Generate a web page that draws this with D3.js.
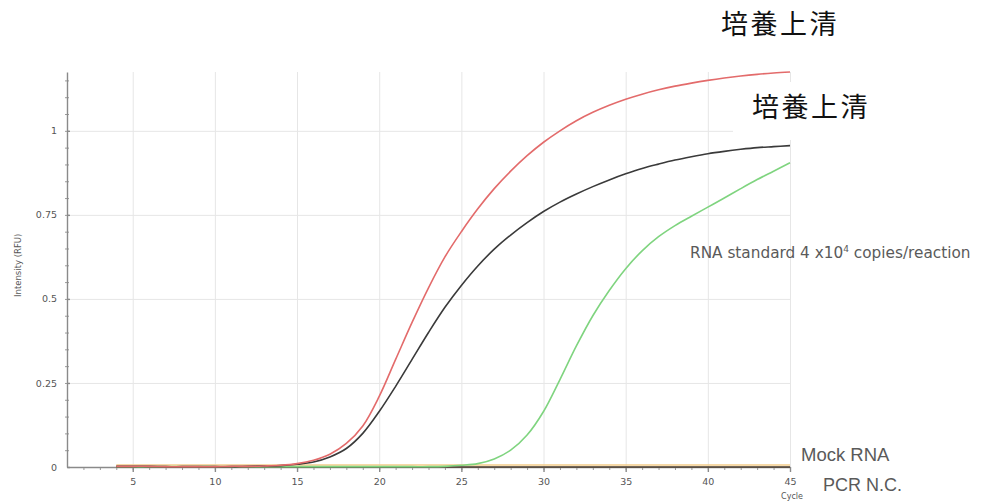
<!DOCTYPE html>
<html>
<head>
<meta charset="utf-8">
<script src="https://cdn.jsdelivr.net/npm/d3@7/dist/d3.min.js"></script>
<style>
  body { margin: 0; background: #fff; }
  svg { display: block; }
  .grid line { stroke: #e6e6e6; stroke-width: 1; }
  .grid .domain { display: none; }
  .axis path, .axis line { stroke: #8a8a8a; stroke-width: 1.4; }
  .axis text { fill: #555; font-family: "DejaVu Sans", sans-serif; font-size: 9.5px; }
  .minor line { stroke: #9a9a9a; stroke-width: 1; }
  .minor .domain { display: none; }
  .curve { fill: none; stroke-width: 1.6; }
  .note { fill: #5a5a5a; font-family: "Liberation Sans", Arial, sans-serif; }
  .jp { fill: #111; font-family: "Noto Sans CJK JP", sans-serif; }
</style>
</head>
<body>
<div id="chart"></div>
<script>
// cycle numbers for every reading (the instrument starts plotting at cycle 4)
const cycles = [4, 5, 6, 7, 8, 9, 10, 11, 12, 13, 14, 15, 16, 17, 18, 19, 20, 21, 22, 23, 24,
  25, 26, 27, 28, 29, 30, 31, 32, 33, 34, 35, 36, 37, 38, 39, 40, 41, 42, 43, 44, 45];

// culture supernatant, red trace
const supernatantRed = [0.002, 0.002, 0.002, 0.001, 0.001, 0.001, 0.001, 0.002, 0.002, 0.003,
  0.005, 0.01, 0.02, 0.038, 0.07, 0.122, 0.21, 0.32, 0.43, 0.533, 0.625, 0.70, 0.768, 0.828,
  0.88, 0.926, 0.966, 1.0, 1.03, 1.055, 1.076, 1.094, 1.109, 1.122, 1.133, 1.142, 1.15, 1.157,
  1.163, 1.168, 1.172, 1.175];

// culture supernatant, black trace
const supernatantBlack = [0.002, 0.002, 0.002, 0.001, 0.001, 0.001, 0.001, 0.001, 0.002, 0.003,
  0.004, 0.008, 0.015, 0.03, 0.055, 0.1, 0.165, 0.24, 0.32, 0.40, 0.475, 0.54, 0.598, 0.648,
  0.69, 0.727, 0.76, 0.788, 0.812, 0.834, 0.854, 0.872, 0.888, 0.901, 0.913, 0.923, 0.932,
  0.939, 0.945, 0.95, 0.953, 0.956];

// RNA standard 4x10^4 copies/reaction
const rnaStandard = [0.001, 0.001, 0.001, 0.001, 0.001, 0.001, 0.001, 0.001, 0.001, 0.001,
  0.001, 0.001, 0.001, 0.001, 0.001, 0.001, 0.001, 0.001, 0.001, 0.001, 0.002, 0.005, 0.01,
  0.024, 0.05, 0.095, 0.165, 0.26, 0.36, 0.45, 0.525, 0.59, 0.643, 0.685, 0.718, 0.746, 0.773,
  0.80, 0.828, 0.855, 0.88, 0.905];

const mockRna = [0.006, 0.006, 0.006, 0.006, 0.006, 0.006, 0.006, 0.006, 0.006, 0.006, 0.006,
  0.006, 0.006, 0.006, 0.006, 0.006, 0.006, 0.006, 0.006, 0.006, 0.006, 0.006, 0.006, 0.006,
  0.006, 0.006, 0.006, 0.006, 0.006, 0.006, 0.006, 0.006, 0.006, 0.006, 0.006, 0.006, 0.006,
  0.006, 0.006, 0.006, 0.006, 0.006];

const pcrNc = [0, 0, 0, 0, 0, 0, 0, 0, 0, 0, 0, 0, 0, 0, 0, 0, 0, 0, 0, 0, 0, 0, 0, 0, 0, 0, 0,
  0, 0, 0, 0, 0, 0, 0, 0, 0, 0, 0, 0, 0, 0, 0];

const xTicks = [5, 10, 15, 20, 25, 30, 35, 40, 45];
const yTicks = [0, 0.25, 0.5, 0.75, 1];

// flat traces first so the rising curves sit on top
const series = [
  { name: 'Mock RNA', values: mockRna, color: '#f3cc8a', width: 1.6 },
  { name: 'PCR N.C.', values: pcrNc, color: '#4b3d2c', width: 2.4 },
  { name: 'RNA standard', values: rnaStandard, color: '#7fd47f', width: 1.6 },
  { name: '培養上清 black', values: supernatantBlack, color: '#3a3a3a', width: 1.6 },
  { name: '培養上清 red', values: supernatantRed, color: '#e36b6b', width: 1.6 }
];

// margin convention
let margin = { top: 72, left: 67, right: 218, bottom: 37 },
  width = 1008 - margin.left - margin.right,
  height = 504 - margin.top - margin.bottom;

let svg = d3.select('#chart')
  .append('svg')
  .attr('width', 1008)
  .attr('height', 504);

let g = svg.append('g')
  .attr('transform', 'translate(' + margin.left + ',' + margin.top + ')');

let xScale = d3.scaleLinear().domain([1, 45]).range([0, width]);
let yScale = d3.scaleLinear().domain([0, 1.175]).range([height, 0]);

// grid
g.append('g')
  .attr('class', 'grid')
  .attr('transform', 'translate(0,' + height + ')')
  .call(d3.axisBottom(xScale).tickValues(xTicks).tickSize(-height).tickFormat(''));

g.append('g')
  .attr('class', 'grid')
  .call(d3.axisLeft(yScale).tickValues(yTicks.slice(1)).tickSize(-width).tickFormat(''));

// minor ticks
g.append('g')
  .attr('class', 'minor')
  .attr('transform', 'translate(0,' + height + ')')
  .call(d3.axisBottom(xScale).tickValues(d3.range(2, 46)).tickSize(3).tickFormat(''));

g.append('g')
  .attr('class', 'minor')
  .attr('transform', 'translate(2,0)')
  .call(d3.axisLeft(yScale).tickValues(d3.range(0.05, 1.17, 0.05)).tickSize(4).tickFormat(''));

// axes
let xAxis = g.append('g')
  .attr('class', 'axis')
  .attr('transform', 'translate(0,' + height + ')')
  .call(d3.axisBottom(xScale).tickValues(xTicks).tickSize(5).tickSizeOuter(0).tickPadding(6));

xAxis.append('text')
  .attr('x', xScale(45) + 2)
  .attr('y', 32)
  .attr('text-anchor', 'middle')
  .style('font-size', '8px')
  .text('Cycle');

let yAxis = g.append('g')
  .attr('class', 'axis')
  .call(d3.axisLeft(yScale).tickValues(yTicks).tickSize(5).tickSizeOuter(0).tickPadding(5)
    .tickFormat(d => d3.format('')(d)));

// major ticks cross the axis
yAxis.selectAll('.tick line').attr('x2', 3);

yAxis.append('text')
  .attr('transform', 'translate(-46,' + yScale(0.6) + ') rotate(-90)')
  .attr('text-anchor', 'middle')
  .style('font-size', '8.5px')
  .text('Intensity (RFU)');

// the curves
let line = d3.line()
  .curve(d3.curveCatmullRom.alpha(0.5))
  .x((d, i) => xScale(cycles[i]))
  .y(d => yScale(d));

g.selectAll('.curve')
  .data(series)
  .enter()
  .append('path')
  .attr('class', 'curve')
  .attr('stroke', d => d.color)
  .attr('stroke-width', d => d.width)
  .attr('d', d => line(d.values));

// pasted annotations
svg.append('text')
  .attr('class', 'jp')
  .attr('x', 721)
  .attr('y', 34)
  .style('font-size', '27px')
  .style('letter-spacing', '2.5px')
  .text('培養上清');

svg.append('rect')
  .attr('x', 733)
  .attr('y', 82)
  .attr('width', 150)
  .attr('height', 58)
  .attr('fill', '#fff');

svg.append('text')
  .attr('class', 'jp')
  .attr('x', 752)
  .attr('y', 117)
  .style('font-size', '27px')
  .style('letter-spacing', '2.5px')
  .text('培養上清');

let std = svg.append('text')
  .attr('class', 'note')
  .attr('x', 690)
  .attr('y', 258)
  .style('font-family', '"DejaVu Sans", sans-serif')
  .style('font-size', '15.3px');
std.append('tspan').text('RNA standard 4 x10');
std.append('tspan').attr('dy', -6).style('font-size', '9px').text('4');
std.append('tspan').attr('dy', 6).text(' copies/reaction');

svg.append('text')
  .attr('class', 'note')
  .attr('x', 801)
  .attr('y', 461)
  .style('font-size', '18.5px')
  .text('Mock RNA');

svg.append('text')
  .attr('class', 'note')
  .attr('x', 823)
  .attr('y', 491)
  .style('font-size', '18px')
  .text('PCR N.C.');
</script>
</body>
</html>
